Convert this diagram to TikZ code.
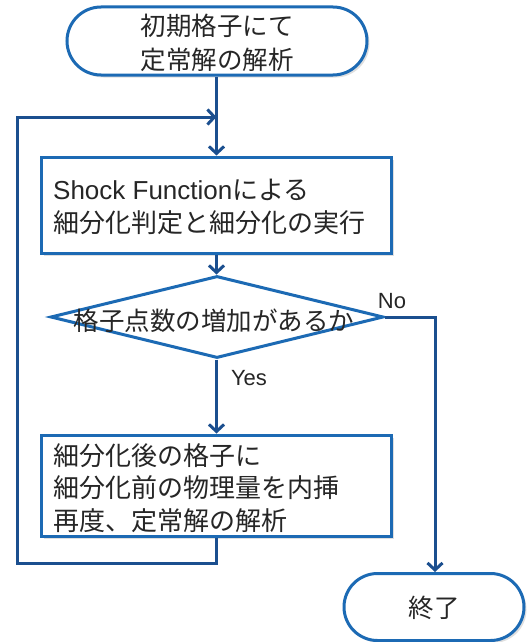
\documentclass[tikz,border=0pt]{standalone}
\usepackage{fontspec}
\setmainfont{Noto Sans CJK JP}
\newfontfamily\latinfont{Liberation Sans}
\usetikzlibrary{shapes.misc,shapes.geometric,arrows.meta,shadows}
\definecolor{bord}{HTML}{1C6AB4}
\definecolor{lin}{HTML}{1B4F8F}
\definecolor{txt}{HTML}{262626}
\begin{document}
\begin{tikzpicture}[x=1pt,y=-1pt,
  shad/.style={drop shadow={opacity=0.25,shadow xshift=2.5pt,shadow yshift=-2.5pt,fill=gray}},
  term/.style={rounded rectangle,draw=bord,line width=3pt,fill=white,shad,inner sep=0pt},
  procbox/.style={rectangle,draw=bord,line width=3pt,fill=white,shad,inner sep=0pt},
  decis/.style={diamond,draw=bord,line width=3pt,fill=white,inner sep=0pt},
  lbl/.style={text=txt,font=\fontsize{25.5pt}{34pt}\selectfont,inner sep=0pt},
  boxlbl/.style={text=txt,font=\fontsize{26pt}{32.5pt}\selectfont,inner sep=0pt},
  small/.style={text=txt,font=\latinfont\fontsize{22pt}{26pt}\selectfont,inner sep=0pt},
  conn/.style={draw=lin,line width=3pt,-{Straight Barb[length=7pt,width=15pt]}}
]
\useasboundingbox (0,0) rectangle (528,642);
\fill[white] (0,0) rectangle (528,642);

\node[term,minimum width=300pt,minimum height=68pt] (start) at (217,41) {};
\node[lbl,align=center] (starttxt) at (217,43) {初期格子にて\\定常解の解析};

\node[procbox,minimum width=350pt,minimum height=96pt] (box1) at (216,205) {};
\node[boxlbl,align=left,anchor=west] (box1txt) at (53,207) {{\latinfont Shock Function}による\\細分化判定と細分化の実行};

\node[decis,minimum width=333pt,minimum height=82pt] (dec) at (217,317) {};
\node[lbl] (dectxt) at (214,321) {格子点数の増加があるか};

\node[procbox,minimum width=350pt,minimum height=101pt] (box2) at (216,485.5) {};
\node[boxlbl,align=left,anchor=west] (box2txt) at (53,488) {細分化後の格子に\\細分化前の物理量を内挿\\再度、定常解の解析};

\node[term,minimum width=180pt,minimum height=67pt] (end) at (434,607) {};
\node[lbl] (endtxt) at (434,608) {終了};

\coordinate (merge) at (216.5,117);
\coordinate (lb) at (17,563);

\draw[conn] (start.south -| merge) -- (box1.north -| merge);
\draw[conn] (box1.south -| merge) -- (dec.north -| merge);
\draw[conn] (dec.south -| merge) -- (box2.north -| merge);
\draw[conn] (box2.south -| merge) |- (lb) |- (merge);
\draw[conn] (dec.east) -| (end.north -| 435,0);

\node[small] (yes) at (249,378) {Yes};
\node[small] (no) at (392,301) {No};
\end{tikzpicture}
\end{document}
